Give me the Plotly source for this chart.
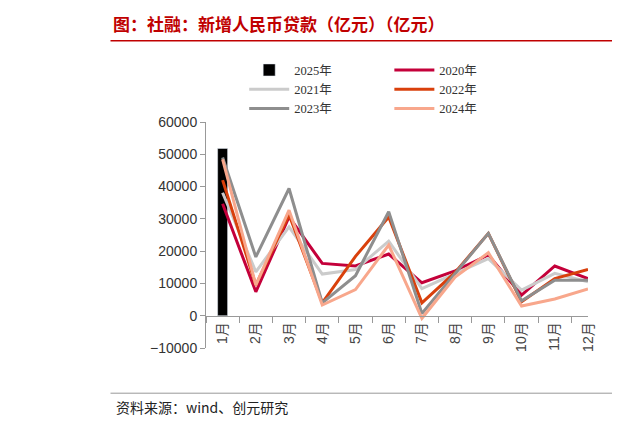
import plotly.graph_objects as go

months = ['1月', '2月', '3月', '4月', '5月', '6月', '7月', '8月', '9月', '10月', '11月', '12月']
y2025 = [51800]
y2020 = [34700, 7400, 30600, 16200, 15400, 19100, 10200, 13900, 18800, 6400, 15400, 11500]
y2021 = [38100, 13600, 27500, 12900, 14300, 23100, 8400, 13100, 17700, 7900, 13100, 10500]
y2022 = [42000, 9500, 31300, 4000, 18400, 30600, 4000, 13400, 25500, 4300, 11500, 14300]
y2023 = [49000, 18200, 39400, 4000, 12400, 32200, 700, 13100, 25500, 4600, 11000, 11000]
y2024 = [48400, 9500, 32700, 3300, 8100, 21900, -800, 12000, 19500, 3000, 5200, 8300]

fig = go.Figure()
fig.add_trace(go.Bar(x=months[:1], y=y2025, name='2025年', marker_color='black', width=0.3, legend='legend'))
series = [('2020年', y2020, '#C4003A', 'legend2'), ('2021年', y2021, '#CBCBCB', 'legend'),
          ('2022年', y2022, '#D9400C', 'legend2'), ('2023年', y2023, '#8E8E8E', 'legend'),
          ('2024年', y2024, '#F8A78C', 'legend2')]
for name, vals, col, lg in series:
    fig.add_trace(go.Scatter(x=months, y=vals, name=name, mode='lines',
                             line=dict(color=col, width=3), legend=lg))

font = 'Liberation Serif, Noto Sans CJK SC'
leg = dict(yanchor='top', xanchor='left', tracegroupgap=0, itemwidth=40,
           font=dict(family=font, size=12.5, color='#333'), bgcolor='rgba(0,0,0,0)')
fig.update_layout(
    width=620, height=426, plot_bgcolor='white', paper_bgcolor='white',
    margin=dict(l=198, r=40, t=114, b=86, autoexpand=False),
    font=dict(family='Arial, Noto Sans CJK SC', size=14, color='#333'),
    legend=dict(x=0.1, y=1.295, **leg),
    legend2=dict(x=0.48, y=1.295, **leg),
    xaxis=dict(anchor='free', position=1/7, showline=True, linecolor='#999', ticks='outside',
               tickcolor='#999', ticklen=6, tickangle=-90, tickson='boundaries',
               tickfont=dict(size=14, color='#444')),
    yaxis=dict(range=[-10000, 60000], dtick=10000, tickformat='d', showline=True, linecolor='#999',
               ticks='outside', tickcolor='#999', ticklen=5, showgrid=False, zeroline=False,
               tickfont=dict(size=14, color='#333')),
    showlegend=True,
)
fig.add_annotation(text='<b>图：社融：新增人民币贷款（亿元）（亿元）</b>', xref='paper', yref='paper',
                   x=-0.25, y=1.37, xanchor='left', yanchor='bottom', showarrow=False,
                   font=dict(size=17, color='#C00000', family='Noto Sans CJK SC'))
fig.add_shape(type='line', xref='paper', yref='paper', x0=-0.25, x1=1.1, y0=1.36, y1=1.36,
              line=dict(color='#C00000', width=1.5))
fig.add_shape(type='line', xref='paper', yref='paper', x0=-0.25, x1=1.1, y0=-0.2, y1=-0.2,
              line=dict(color='#999', width=1))
fig.add_annotation(text='资料来源：wind、创元研究', xref='paper', yref='paper',
                   x=-0.24, y=-0.21, xanchor='left', yanchor='top', showarrow=False,
                   font=dict(size=14, color='#222', family='Noto Sans CJK SC'))
fig.write_html('out.html')
